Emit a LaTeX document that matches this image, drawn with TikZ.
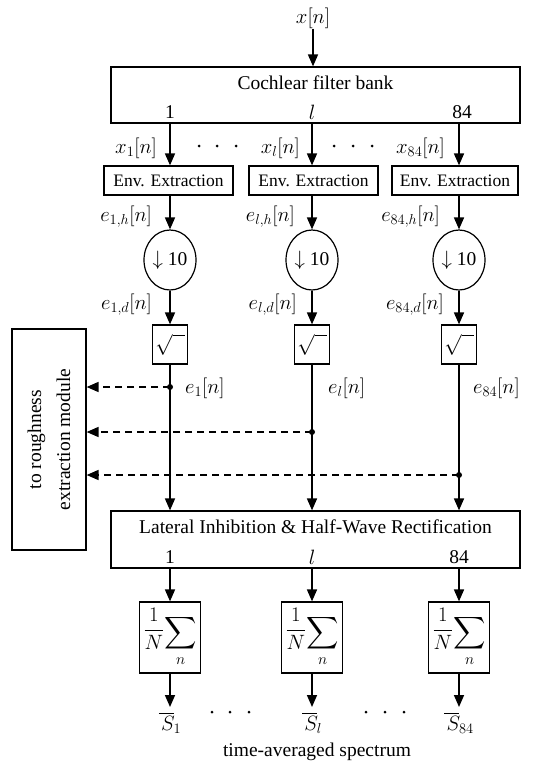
\documentclass[tikz,border=0pt]{standalone}
\usepackage{amsmath}
\usepackage{exscale}
\usepackage{graphicx}
\usepackage{fontspec}
\setmainfont{Liberation Serif}
\usetikzlibrary{arrows.meta,shapes.geometric}
\newcommand{\avgsum}{\scalebox{1.2}{$\displaystyle\frac{1}{N}$}\raisebox{-3pt}{\scalebox{1.3}{$\displaystyle\sum_{n}$}}}
\newcommand{\sbar}{\overline{\mkern2mu S\mkern-1mu}}
\begin{document}
\begin{tikzpicture}[x=1pt,y=1pt,
 every node/.style={font=\fontsize{19.5}{24}\selectfont},
 box/.style={draw,line width=1.2pt,inner sep=0pt},
 envbox/.style={box,minimum height=29,font=\fontsize{17.5}{20}\selectfont},
 dsnode/.style={draw,ellipse,line width=1.2pt,minimum width=52,minimum height=60,inner sep=0pt},
 sqbox/.style={box,minimum width=35,minimum height=39},
 sumbox/.style={box,minimum width=61,minimum height=71,font=\fontsize{17}{20}\selectfont},
 flow/.style={line width=1.6pt,-{Triangle[length=12pt,width=10pt]}},
 dasharrow/.style={line width=1.6pt,dash pattern=on 7pt off 5pt,-{Triangle[length=12pt,width=10pt]}},
 lbl/.style={inner sep=0pt},
]
\useasboundingbox (0,0) rectangle (556,-768);
\coordinate (c1) at (170,0);
\coordinate (c2) at (312,0);
\coordinate (c3) at (459,0);

% input
\node[lbl] (xin) at (313,-18) {$x[n]$};
\node[box,minimum width=409,minimum height=56] (cfb) at (315.5,-95) {};
\node (cfbt) at (315.5,-83) {Cochlear filter bank};
\node (cn1) at (170,-112) {1};
\node (cnl) at (312,-112) {$l$};
\node (cn84) at (462,-112) {84};
\draw[flow] (xin) -- (cfb.north -| xin);

% env extraction
\node[envbox,minimum width=129] (env1) at (168.5,-180.5) {Env. Extraction};
\node[envbox,minimum width=129] (env2) at (313.5,-180.5) {Env. Extraction};
\node[envbox,minimum width=126] (env3) at (455,-180.5) {Env. Extraction};
\draw[flow] (cfb.south -| c1) -- (env1.north -| c1);
\draw[flow] (cfb.south -| c2) -- (env2.north -| c2);
\draw[flow] (cfb.south -| c3) -- (env3.north -| c3);
\node[lbl,anchor=east] (lx1) at (157,-148) {$x_1[n]$};
\node[lbl,anchor=east] (lxl) at (300,-148) {$x_l[n]$};
\node[lbl,anchor=east] (lx84) at (445,-148) {$x_{84}[n]$};
\foreach \x in {199,217,236,334,353,372} \fill (\x,-146) circle (1.5);

% downsampling
\node[dsnode] (ds1) at (170,-260) {$\downarrow$\ 10};
\node[dsnode] (ds2) at (312,-260) {$\downarrow$\ 10};
\node[dsnode] (ds3) at (459,-260) {$\downarrow$\ 10};
\draw[flow] (env1.south -| c1) -- (ds1.north);
\draw[flow] (env2.south -| c2) -- (ds2.north);
\draw[flow] (env3.south -| c3) -- (ds3.north);
\node[lbl,anchor=east] (leh1) at (152,-217) {$e_{1,h}[n]$};
\node[lbl,anchor=east] (lehl) at (295,-217) {$e_{l,h}[n]$};
\node[lbl,anchor=east] (leh84) at (440,-217) {$e_{84,h}[n]$};

% sqrt
\node[sqbox] (sq1) at (170,-344.5) {$\sqrt{\phantom{n}}$};
\node[sqbox] (sq2) at (312,-344.5) {$\sqrt{\phantom{n}}$};
\node[sqbox] (sq3) at (459,-344.5) {$\sqrt{\phantom{n}}$};
\draw[flow] (ds1.south) -- (sq1.north);
\draw[flow] (ds2.south) -- (sq2.north);
\draw[flow] (ds3.south) -- (sq3.north);
\node[lbl,anchor=east] (led1) at (152,-305) {$e_{1,d}[n]$};
\node[lbl,anchor=east] (ledl) at (297,-305) {$e_{l,d}[n]$};
\node[lbl,anchor=east] (led84) at (444,-305) {$e_{84,d}[n]$};

% lateral inhibition
\node[box,minimum width=409,minimum height=57] (lat) at (315.5,-539.5) {};
\node (latt) at (315.5,-527) {Lateral Inhibition \& Half-Wave Rectification};
\node (ln1) at (170,-557) {1};
\node (lnl) at (312,-557) {$l$};
\node (ln84) at (459,-557) {84};
\draw[flow] (sq1.south) -- (lat.north -| sq1);
\draw[flow] (sq2.south) -- (lat.north -| sq2);
\draw[flow] (sq3.south) -- (lat.north -| sq3);
\node[lbl,anchor=west] (le1) at (185,-388) {$e_1[n]$};
\node[lbl,anchor=west] (lel) at (328,-388) {$e_l[n]$};
\node[lbl,anchor=west] (le84) at (473,-388) {$e_{84}[n]$};

% roughness
\node[box,rotate=90,minimum width=221,minimum height=74,align=center,
      font=\fontsize{19.5}{29}\selectfont] (rough) at (49,-439.5) {to roughness\\extraction module};
\coordinate (j1) at (170,-387);
\coordinate (j2) at (312,-432);
\coordinate (j3) at (459,-475);
\draw[dasharrow] (j1) -- (j1 -| rough.south);
\draw[dasharrow] (j2) -- (j2 -| rough.south);
\draw[dasharrow] (j3) -- (j3 -| rough.south);
\fill (j1) circle (3);
\fill (j2) circle (3);
\fill (j3) circle (3);

% averaging
\node[sumbox] (sum1) at (170,-637.5) {\avgsum};
\node[sumbox] (sum2) at (312,-637.5) {\avgsum};
\node[sumbox] (sum3) at (459,-637.5) {\avgsum};
\draw[flow] (lat.south -| sum1) -- (sum1.north);
\draw[flow] (lat.south -| sum2) -- (sum2.north);
\draw[flow] (lat.south -| sum3) -- (sum3.north);
\node[anchor=north,inner sep=5pt] (s1) at (170,-707) {$\sbar_1$};
\node[anchor=north,inner sep=5pt] (sl) at (312,-707) {$\sbar_l$};
\node[anchor=north,inner sep=5pt] (s84) at (459,-707) {$\sbar_{84}$};
\draw[flow] (sum1.south) -- (s1.north);
\draw[flow] (sum2.south) -- (sl.north);
\draw[flow] (sum3.south) -- (s84.north);
\foreach \x in {212,230,249,366,385,404} \fill (\x,-712) circle (1.5);
\node (tas) at (317,-752) {time-averaged spectrum};
\end{tikzpicture}
\end{document}
